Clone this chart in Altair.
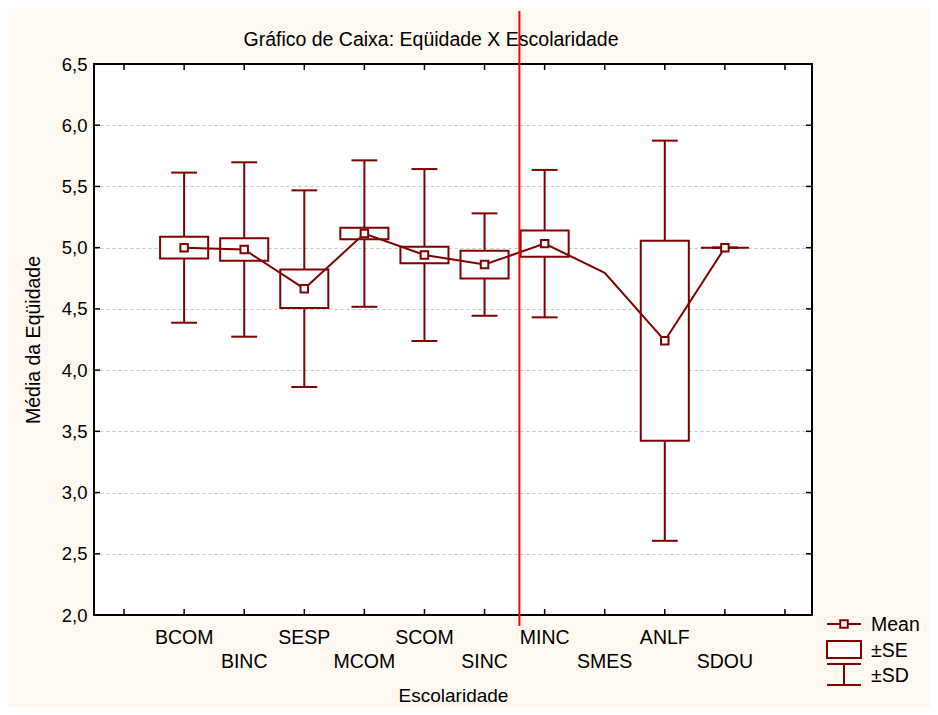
import altair as alt
import pandas as pd

# ---- data ----
categories = ["BCOM", "BINC", "SESP", "MCOM", "SCOM", "SINC", "MINC", "SMES", "ANLF", "SDOU"]
means = [5.00, 4.985, 4.665, 5.115, 4.94, 4.862, 5.033, 4.795, 4.24, 5.00]
se = [0.089, 0.091, 0.157, 0.047, 0.068, 0.113, 0.107, None, 0.817, 0.0]
sd = [0.613, 0.712, 0.803, 0.598, 0.702, 0.418, 0.602, None, 1.634, 0.0]
y_ticks = [2.0, 2.5, 3.0, 3.5, 4.0, 4.5, 5.0, 5.5, 6.0, 6.5]
x_ticks = list(range(12))
divider = [6.58]

TITLE = "Gráfico de Caixa: Eqüidade X Escolaridade"
X_TITLE = "Escolaridade"
Y_TITLE = "Média da Eqüidade"
LEGEND = ["Mean", "±SE", "±SD"]

DARK = "#800000"
CREAM = "#fdf9f0"
FONT = "Liberation Sans"
FS = 19.5
FS_TICK = 18.5
W, H = 718, 551

df = pd.DataFrame({"cat": categories, "pos": list(range(1, len(categories) + 1)),
                   "mean": means, "se": se, "sd": sd})

xscale = alt.Scale(domain=[-0.5, 11.45], nice=False, zero=False)
yscale = alt.Scale(domain=[2.0, 6.5], nice=False, zero=False)

xaxis = alt.Axis(title=X_TITLE, labels=False, ticks=False, domain=False, grid=False,
                 titlePadding=71, titleFont=FONT, titleFontSize=19,
                 titleFontWeight="normal", titleColor="black")
yaxis = alt.Axis(title=Y_TITLE, values=y_ticks,
                 labelExpr="replace(format(datum.value, '.1f'), '.', ',')",
                 ticks=False, domain=False, grid=True, gridColor="#c4c4c4",
                 gridDash=[3, 3], gridWidth=1, labelFont=FONT, labelFontSize=FS_TICK,
                 labelColor="black", labelPadding=7, titlePadding=18,
                 titleFont=FONT, titleFontSize=FS, titleFontWeight="normal",
                 titleColor="black")


def X(f):
    return alt.X(f, type="quantitative", scale=xscale, axis=xaxis)


def Y(f):
    return alt.Y(f, type="quantitative", scale=yscale, axis=yaxis)


base = alt.Chart(df)
stats = base.transform_filter("isValid(datum.se)").transform_calculate(
    se_lo="datum.mean - datum.se", se_hi="datum.mean + datum.se",
    sd_lo="datum.mean - datum.sd", sd_hi="datum.mean + datum.sd",
    box_l="datum.pos - 0.4", box_r="datum.pos + 0.4",
    cap_l="datum.pos - 0.215", cap_r="datum.pos + 0.215")

whisker = stats.mark_rule(color=DARK, strokeWidth=2).encode(
    x=X("pos"), y=Y("sd_lo"), y2="sd_hi")
cap_hi = stats.mark_rule(color=DARK, strokeWidth=2).encode(
    x=X("cap_l"), x2="cap_r", y=Y("sd_hi"))
cap_lo = stats.mark_rule(color=DARK, strokeWidth=2).encode(
    x=X("cap_l"), x2="cap_r", y=Y("sd_lo"))
box = stats.mark_rect(fill="white", stroke=DARK, strokeWidth=2).encode(
    x=X("box_l"), x2="box_r", y=Y("se_lo"), y2="se_hi")
line = base.mark_line(color=DARK, strokeWidth=2).encode(x=X("pos"), y=Y("mean"))
markers = stats.mark_square(size=56, fill="white", stroke=DARK, strokeWidth=2,
                            opacity=1).encode(x=X("pos"), y=Y("mean"))

# inward ticks on all four sides
xt = alt.Chart(pd.DataFrame({"k": x_ticks}))
yt = alt.Chart(pd.DataFrame({"v": y_ticks}))
xt_bottom = xt.mark_rule(color="black", strokeWidth=1.5).encode(
    x=X("k"), y=alt.value(H), y2=alt.value(H - 6))
xt_top = xt.mark_rule(color="black", strokeWidth=1.5).encode(
    x=X("k"), y=alt.value(0), y2=alt.value(6))
yt_left = yt.mark_rule(color="black", strokeWidth=1.5).encode(
    y=Y("v"), x=alt.value(0), x2=alt.value(6))
yt_right = yt.mark_rule(color="black", strokeWidth=1.5).encode(
    y=Y("v"), x=alt.value(W - 6), x2=alt.value(W))

one = alt.Chart(alt.Data(values=[{"a": 1}]))
frame = one.mark_rect(fillOpacity=0, stroke="black", strokeWidth=2).encode(
    x=alt.value(0), x2=alt.value(W), y=alt.value(0), y2=alt.value(H))

red = alt.Chart(pd.DataFrame({"x": divider})).mark_rule(
    color="#ff0000", strokeWidth=2).encode(
    x=X("x"), y=alt.value(-53), y2=alt.value(H + 11))

lab_top = base.transform_filter("datum.pos % 2 == 1").mark_text(
    font=FONT, fontSize=FS, color="black", baseline="middle").encode(
    x=X("pos"), y=alt.value(H + 23), text="cat:N")
lab_bot = base.transform_filter("datum.pos % 2 == 0").mark_text(
    font=FONT, fontSize=FS, color="black", baseline="middle").encode(
    x=X("pos"), y=alt.value(H + 47), text="cat:N")

title = one.mark_text(text=TITLE, font=FONT, fontSize=FS, color="black",
                      align="center", baseline="middle").encode(
    x=alt.value(337), y=alt.value(-24))

# legend glyphs
lg_mean_line = one.mark_rule(color=DARK, strokeWidth=2).encode(
    x=alt.value(733), x2=alt.value(767), y=alt.value(560))
lg_mean_pt = one.mark_square(size=56, fill="white", stroke=DARK, strokeWidth=2,
                             opacity=1).encode(x=alt.value(750), y=alt.value(560))
lg_box = one.mark_rect(fill="white", stroke=DARK, strokeWidth=2).encode(
    x=alt.value(733), x2=alt.value(767), y=alt.value(577), y2=alt.value(594))
lg_cap1 = one.mark_rule(color=DARK, strokeWidth=2).encode(
    x=alt.value(733), x2=alt.value(767), y=alt.value(600))
lg_cap2 = one.mark_rule(color=DARK, strokeWidth=2).encode(
    x=alt.value(733), x2=alt.value(767), y=alt.value(621))
lg_vert = one.mark_rule(color=DARK, strokeWidth=2).encode(
    x=alt.value(750), y=alt.value(600), y2=alt.value(621))
lg_texts = [
    one.mark_text(text=t, font=FONT, fontSize=FS, color="black", align="left",
                  baseline="middle").encode(x=alt.value(777), y=alt.value(yy))
    for t, yy in zip(LEGEND, [561, 587, 612])
]

chart = alt.layer(
    whisker, cap_hi, cap_lo, box, line, markers,
    xt_bottom, xt_top, yt_left, yt_right, frame, red,
    lab_top, lab_bot, title,
    lg_mean_line, lg_mean_pt, lg_box, lg_cap1, lg_cap2, lg_vert, *lg_texts,
).properties(
    width=W, height=H, background=CREAM,
    padding={"left": 86, "top": 56, "right": 118, "bottom": 92},
    autosize=alt.AutoSizeParams(type="none"),
).configure_view(fill="white", strokeWidth=0)

chart.save("out.html", embed_options={"renderer": "svg", "actions": False})
